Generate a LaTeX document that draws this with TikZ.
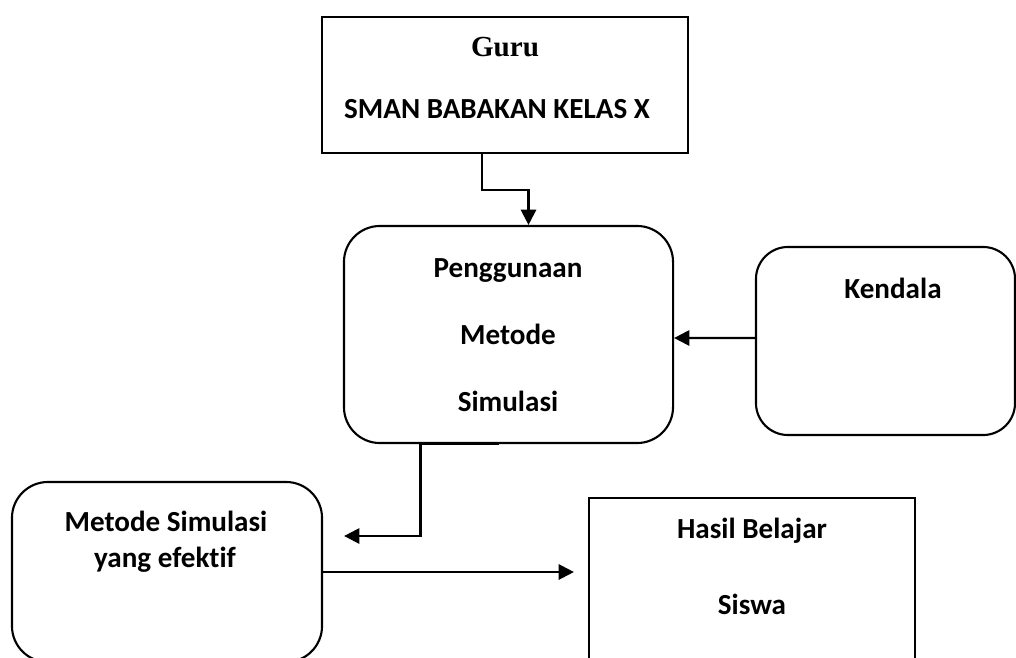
\documentclass[tikz,border=0pt]{standalone}
\usepackage{fontspec}
\setmainfont{Carlito}[Ligatures=NoCommon, Contextuals=NoAlternate]
\newfontfamily\gurufont{Liberation Serif}
\usepackage{tikz}
\usetikzlibrary{arrows.meta, calc, positioning}

\tikzset{
  box/.style={draw=black, line width=1.5pt, fill=white},
  roundbox/.style={box, rounded corners=0.9cm},
  lbl/.style={font=\fontsize{20.7}{24}\selectfont\bfseries, inner sep=0pt},
  link/.style={line width=1.6pt, -{Triangle[length=3.8mm,width=3.8mm]}}
}

\begin{document}
\begin{tikzpicture}[x=0.025cm, y=-0.025cm]
  \useasboundingbox (0,0) rectangle (1016,657);
  \clip (0,0) rectangle (1016,657);

  % Guru, the top box.
  \node [box,
    minimum width=9.15cm,
    minimum height=3.4cm] (guru) at (505,85) {};
  \node [lbl, font=\fontsize{20.7}{24}\selectfont\gurufont\bfseries] (gurutxt) at (505,47) {Guru};
  \node [lbl] (sekolah) at (497,109) {SMAN BABAKAN KELAS X};

  % Penggunaan metode simulasi, the middle box.
  \node [roundbox,
    minimum width=8.225cm,
    minimum height=5.425cm] (pengg) at (508.5,334.5) {};
  \node [lbl] (pengg1) at (508,271) {Penggunaan};
  \node [lbl] (pengg2) at (508,334) {Metode};
  \node [lbl] (pengg3) at (508,401) {Simulasi};

  % Kendala, on the right.
  \node [roundbox,
    rounded corners=0.8cm,
    minimum width=6.475cm,
    minimum height=4.7cm] (kendala) at (885.5,341) {};
  \node [lbl] (kendalatxt) at (893,288) {Kendala};

  % Metode simulasi yang efektif, bottom left.
  \node [roundbox,
    minimum width=7.75cm,
    minimum height=4.5cm] (metode) at (167,572) {};
  \node [lbl] (metode1) at (166,521) {Metode Simulasi};
  \node [lbl] (metode2) at (165,560) {yang efekt\kern0pt if};

  % Hasil belajar siswa, bottom right.
  \node [box,
    minimum width=8.15cm,
    minimum height=4.25cm] (hasil) at (752,583) {};
  \node [lbl] (hasil1) at (752,531) {Hasil Belajar};
  \node [lbl] (hasil2) at (752,604) {Siswa};

  % Connectors
  \draw [link] ($(guru.south)+(-23,0)$) -- ++(0,36) -| ($(pengg.north)+(20,0)$);
  \draw [link] ($(kendala.west)+(0,-3)$) -- ($(pengg.east)+(0,3.5)$);
  \draw [link] ($(pengg.south)+(-10,0)$) -- ++(-78,0) |- ($(metode.east)+(21,-36)$);
  \draw [link] (metode.east) -- ($(hasil.west |- metode.east)+(-14,0)$);
\end{tikzpicture}
\end{document}
